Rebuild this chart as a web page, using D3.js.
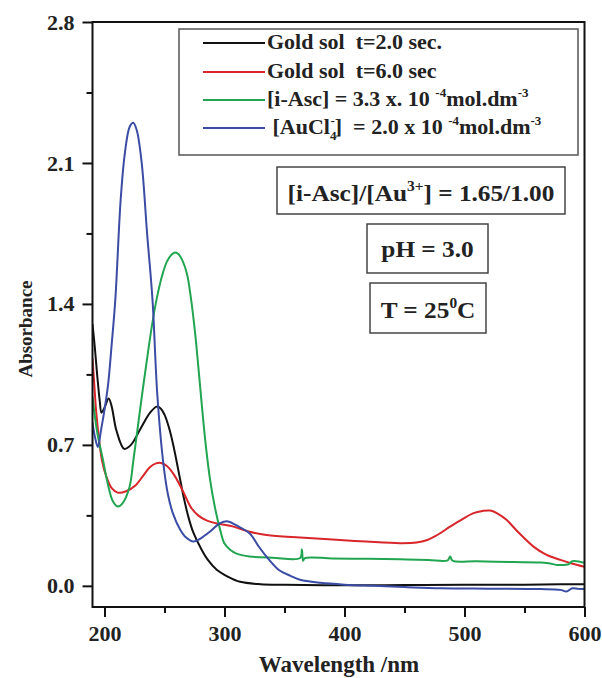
<!DOCTYPE html>
<html>
<head>
<meta charset="utf-8">
<script src="https://cdn.jsdelivr.net/npm/d3@7"></script>
<style>
  html, body { margin: 0; padding: 0; background: #fff; }
  svg text { font-family: "Liberation Serif", "Times New Roman", serif; font-weight: bold; white-space: pre; }
</style>
</head>
<body>
<div id="chart"></div>
<script>
(function () {
  'use strict';

  // ---- data ----
  // Gold sol t = 2.0 sec (black)
  const sol2Wl  = [190, 192, 194, 196, 197.5, 200, 203.5, 206, 210, 216.5, 222, 230, 238, 243.5, 247, 250, 254, 258, 262, 266, 270, 274, 280, 286, 293.5, 303, 313, 330, 350, 400, 450, 500, 550, 580, 600];
  const sol2Abs = [1.30, 1.18, 1.04, 0.92, 0.86, 0.885, 0.93, 0.89, 0.77, 0.68, 0.70, 0.78, 0.86, 0.89, 0.88, 0.85, 0.78, 0.68, 0.56, 0.44, 0.34, 0.265, 0.19, 0.13, 0.08, 0.045, 0.02, 0.008, 0.005, 0.003, 0.004, 0.005, 0.005, 0.008, 0.008];

  // Gold sol t = 6.0 sec (red)
  const sol6Wl  = [190, 191.5, 193, 195.8, 198, 201.4, 206, 211, 218, 226, 232, 238, 243, 247, 252, 257, 262, 267, 272, 278, 285, 295, 307.5, 320, 335, 363, 390, 418, 446, 460, 469, 478, 488, 498, 507.5, 515, 521.5, 528, 535, 545, 557.5, 568, 580, 590, 600];
  const sol6Abs = [1.13, 1.0, 0.87, 0.71, 0.62, 0.545, 0.485, 0.463, 0.47, 0.50, 0.545, 0.59, 0.608, 0.61, 0.595, 0.56, 0.51, 0.45, 0.39, 0.35, 0.325, 0.308, 0.294, 0.27, 0.253, 0.24, 0.23, 0.22, 0.212, 0.215, 0.228, 0.255, 0.294, 0.33, 0.361, 0.372, 0.374, 0.358, 0.328, 0.265, 0.195, 0.155, 0.129, 0.11, 0.095];

  // [i-Asc] (green)
  const ascWl  = [190, 194, 198.7, 203, 207, 211, 215, 220.8, 224, 228, 232, 236, 240, 244, 248, 252, 256, 259, 262, 265, 268.7, 272, 275.6, 278, 280.3, 284, 288, 292, 296.4, 300, 304.7, 310, 321, 340, 363, 364.5, 365.5, 367, 390, 420, 446, 470, 486, 488, 490, 510, 540, 563, 570, 577, 580, 586, 590, 596, 600];
  const ascAbs = [0.94, 0.76, 0.626, 0.50, 0.42, 0.394, 0.41, 0.49, 0.62, 0.80, 0.98, 1.15, 1.31, 1.44, 1.54, 1.61, 1.645, 1.655, 1.645, 1.615, 1.55, 1.43, 1.25, 1.10, 0.95, 0.72, 0.526, 0.39, 0.278, 0.21, 0.179, 0.16, 0.146, 0.14, 0.138, 0.18, 0.125, 0.138, 0.136, 0.134, 0.132, 0.128, 0.127, 0.146, 0.125, 0.122, 0.118, 0.116, 0.112, 0.104, 0.104, 0.106, 0.122, 0.12, 0.114];

  // [AuCl4-] (blue)
  const aucWl  = [190, 192, 194.5, 197, 200, 203, 206, 209, 213.5, 217, 221, 224, 227, 231, 235.5, 240, 244, 249, 253, 257, 263, 268, 274, 280, 288, 296, 303, 310, 321, 328, 335, 345, 355, 363, 380, 400, 424, 450, 480, 520, 563, 580, 585, 588, 590, 595, 600];
  const aucAbs = [0.81, 0.74, 0.69, 0.77, 0.874, 1.0, 1.2, 1.42, 1.92, 2.15, 2.28, 2.30, 2.26, 2.10, 1.75, 1.42, 0.95, 0.61, 0.45, 0.36, 0.28, 0.24, 0.22, 0.235, 0.27, 0.31, 0.32, 0.30, 0.26, 0.20, 0.145, 0.08, 0.05, 0.03, 0.015, 0.006, 0.0, -0.006, -0.012, -0.014, -0.016, -0.02, -0.028, -0.018, -0.012, -0.015, -0.015];

  const xTicks = [200, 300, 400, 500, 600];
  const xMinor = [250, 350, 450, 550];
  const yTicks = [0.0, 0.7, 1.4, 2.1, 2.8];
  const yMinor = [0.35, 1.05, 1.75, 2.45];

  const series = [
    { wl: sol2Wl, abs: sol2Abs, color: '#111111' },
    { wl: sol6Wl, abs: sol6Abs, color: '#d8262b' },
    { wl: ascWl,  abs: ascAbs,  color: '#21a550' },
    { wl: aucWl,  abs: aucAbs,  color: '#3a4ca3' }
  ];

  // ---- layout ----
  const width = 602, height = 678;
  const left = 92.5, right = 584.5, top = 22, bottom = 607;

  const svg = d3.select('#chart')
    .append('svg')
    .attr('width', width)
    .attr('height', height);

  const x = d3.scaleLinear().domain([190, 600]).range([left, right]);
  const y = d3.scaleLinear().domain([-0.105, 2.8]).range([bottom, top]);

  // clip the curves to the frame
  svg.append('clipPath').attr('id', 'plot-clip')
    .append('rect')
    .attr('x', left).attr('y', top)
    .attr('width', right - left).attr('height', bottom - top);

  // axes (major + minor ticks)
  svg.append('g')
    .attr('transform', `translate(0,${bottom})`)
    .call(d3.axisBottom(x).tickValues(xTicks).tickSize(10).tickSizeOuter(0).tickPadding(8));
  svg.append('g')
    .attr('transform', `translate(0,${bottom})`)
    .call(d3.axisBottom(x).tickValues(xMinor).tickSize(6).tickSizeOuter(0).tickFormat(''));

  svg.append('g')
    .attr('transform', `translate(${left},0)`)
    .call(d3.axisLeft(y).tickValues(yTicks).tickSize(10).tickSizeOuter(0).tickPadding(8).tickFormat(d3.format('.1f')));
  svg.append('g')
    .attr('transform', `translate(${left},0)`)
    .call(d3.axisLeft(y).tickValues(yMinor).tickSize(6).tickSizeOuter(0).tickFormat(''));

  svg.selectAll('.domain').remove();
  svg.selectAll('.tick line').attr('stroke', '#111').attr('stroke-width', 2);
  svg.selectAll('.tick text')
    .attr('fill', '#222')
    .style('font-family', '"Liberation Serif", "Times New Roman", serif')
    .style('font-weight', 'bold')
    .style('font-size', '22px');

  // curves
  const line = d3.line()
    .x(d => x(d[0]))
    .y(d => y(d[1]))
    .curve(d3.curveCatmullRom.alpha(0.5));

  svg.append('g')
    .attr('clip-path', 'url(#plot-clip)')
    .selectAll('path')
    .data(series)
    .join('path')
    .attr('d', s => line(d3.zip(s.wl, s.abs)))
    .attr('fill', 'none')
    .attr('stroke', s => s.color)
    .attr('stroke-width', 2)
    .attr('stroke-linejoin', 'round');

  // frame
  svg.append('rect')
    .attr('x', left).attr('y', top)
    .attr('width', right - left).attr('height', bottom - top)
    .attr('fill', 'none')
    .attr('stroke', '#111')
    .attr('stroke-width', 2);

  // axis titles
  svg.append('text')
    .attr('x', 339).attr('y', 672)
    .attr('text-anchor', 'middle')
    .attr('fill', '#222')
    .style('font-size', '23px')
    .text('Wavelength /nm');

  svg.append('text')
    .attr('transform', 'translate(32,329) rotate(-90)')
    .attr('text-anchor', 'middle')
    .attr('fill', '#222')
    .style('font-size', '19px')
    .text('Absorbance');

  // legend
  const legend = svg.append('g');
  legend.append('rect')
    .attr('x', 179).attr('y', 29)
    .attr('width', 399).attr('height', 126)
    .attr('fill', '#fff')
    .attr('stroke', '#555')
    .attr('stroke-width', 1.5);

  const rowBase = [49, 78, 106, 134];
  legend.selectAll('line')
    .data(series)
    .join('line')
    .attr('x1', 203).attr('x2', 265)
    .attr('y1', (d, i) => rowBase[i] - 6)
    .attr('y2', (d, i) => rowBase[i] - 6)
    .attr('stroke', d => d.color)
    .attr('stroke-width', 2);

  const lg = (i) => legend.append('text')
    .attr('x', 267).attr('y', rowBase[i])
    .attr('fill', '#222')
    .style('font-size', '22px');

  lg(0).text('Gold sol  t=2.0 sec.');
  lg(1).text('Gold sol  t=6.0 sec');

  const t3 = lg(2);
  t3.append('tspan').text('[i-Asc] = 3.3 x. 10 ');
  t3.append('tspan').attr('dy', -9).style('font-size', '13px').text('-4');
  t3.append('tspan').attr('dy', 9).text('mol.dm');
  t3.append('tspan').attr('dy', -9).style('font-size', '13px').text('-3');

  const t4 = lg(3);
  t4.append('tspan').text(' [AuCl');
  t4.append('tspan').attr('dy', 6).style('font-size', '13px').text('4');
  t4.append('tspan').attr('dx', -6).attr('dy', -15).style('font-size', '13px').text('-');
  t4.append('tspan').attr('dy', 9).text(']  = 2.0 x 10 ');
  t4.append('tspan').attr('dy', -9).style('font-size', '13px').text('-4');
  t4.append('tspan').attr('dy', 9).text('mol.dm');
  t4.append('tspan').attr('dy', -9).style('font-size', '13px').text('-3');

  // condition boxes
  const boxes = [
    { x: 277, y: 167, w: 288, h: 47, base: 201 },
    { x: 367, y: 224, w: 121, h: 49, base: 257 },
    { x: 370, y: 283, w: 116, h: 50, base: 318 }
  ];
  svg.append('g').selectAll('rect')
    .data(boxes)
    .join('rect')
    .attr('x', d => d.x).attr('y', d => d.y)
    .attr('width', d => d.w).attr('height', d => d.h)
    .attr('fill', '#fff')
    .attr('stroke', '#444')
    .attr('stroke-width', 1.5);

  // box text is a little wider than tall in the picture
  const bt = (b) => svg.append('g')
    .attr('transform', `translate(${b.x + b.w / 2},${b.base}) scale(1.1,1)`)
    .append('text')
    .attr('text-anchor', 'middle')
    .attr('fill', '#222')
    .style('font-size', '23px');

  const r1 = bt(boxes[0]);
  r1.append('tspan').text('[i-Asc]/[Au');
  r1.append('tspan').attr('dy', -10).style('font-size', '14px').text('3+');
  r1.append('tspan').attr('dy', 10).text('] = 1.65/1.00');

  bt(boxes[1]).text('pH = 3.0');

  const r3 = bt(boxes[2]);
  r3.append('tspan').text('T = 25');
  r3.append('tspan').attr('dy', -10).style('font-size', '14px').text('0');
  r3.append('tspan').attr('dy', 10).text('C');
})();
</script>
</body>
</html>
